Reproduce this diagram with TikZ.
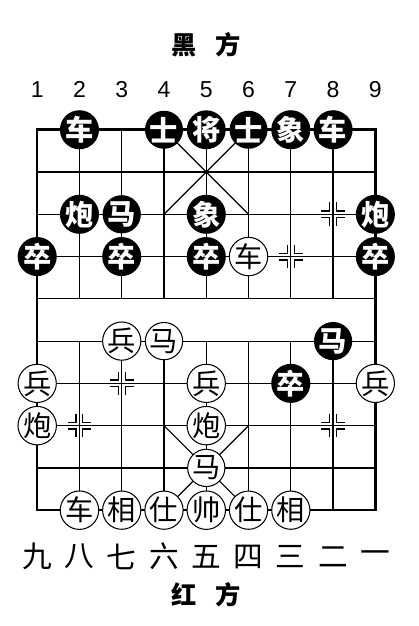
\documentclass[tikz,border=0pt]{standalone}
\usepackage{fontspec}
\setmainfont{Liberation Sans}
\newfontfamily\cjk{Noto Sans CJK SC}
\usepackage{tikz}
\usetikzlibrary{calc}

\tikzset{
  gridline/.style={line width=0.8pt},
  frameline/.style={line width=1.7pt},
  bpiece/.style={circle, fill=black, text=white, minimum size=0.85cm, inner sep=0pt,
    font=\cjk\bfseries\fontsize{19}{19}\selectfont},
  rpiece/.style={circle, draw=black, fill=white, line width=0.7pt, minimum size=0.85cm, inner sep=0pt,
    font=\cjk\fontsize{19}{19}\selectfont},
  colnum/.style={font=\fontsize{15.5}{15.5}\selectfont},
  filenum/.style={font=\cjk\fontsize{20}{20}\selectfont},
  side/.style={font=\cjk\bfseries\fontsize{17}{17}\selectfont}
}

% corner marks of a point
\newcommand{\spotmark}[2]{%
  \foreach \sx in {-1,1} {
    \foreach \sy in {-1,1} {
      \draw[gridline] (#1+\sx*0.08,#2+\sy*0.28) -- (#1+\sx*0.08,#2+\sy*0.08) -- (#1+\sx*0.28,#2+\sy*0.08);
    }
  }%
}

\begin{document}
\begin{tikzpicture}
  \useasboundingbox (-0.88,-2.74) rectangle (9.02,12.07);

  % board
  \foreach \y in {0,...,9}
    \draw[gridline] (0,\y) -- (8,\y);
  \foreach \x in {1,...,7} {
    \draw[gridline] (\x,0) -- (\x,4);
    \draw[gridline] (\x,5) -- (\x,9);
  }
  \draw[frameline] (0,0) rectangle (8,9);
  % palaces
  \draw[gridline] (3,9) -- (5,7) (5,9) -- (3,7);
  \draw[gridline] (3,0) -- (5,2) (5,0) -- (3,2);
  % free points
  \foreach \px/\py in {7/7,6/6,2/3,1/2,7/2} {
    \spotmark{\px}{\py}
  }

  % black side
  \node[bpiece] (bche1) at (1,9) {车};
  \node[bpiece] (bshi1) at (3,9) {士};
  \node[bpiece] (bjiang) at (4,9) {将};
  \node[bpiece] (bshi2) at (5,9) {士};
  \node[bpiece] (bxiang) at (6,9) {象};
  \node[bpiece] (bche2) at (7,9) {车};
  \node[bpiece] (bpao1) at (1,7) {炮};
  \node[bpiece] (bma1) at (2,7) {马};
  \node[bpiece] (bxiang2) at (4,7) {象};
  \node[bpiece] (bpao2) at (8,7) {炮};
  \node[bpiece] (bzu1) at (0,6) {卒};
  \node[bpiece] (bzu2) at (2,6) {卒};
  \node[bpiece] (bzu3) at (4,6) {卒};
  \node[bpiece] (bzu4) at (8,6) {卒};
  \node[bpiece] (bma2) at (7,4) {马};
  \node[bpiece] (bzu5) at (6,3) {卒};

  % red side
  \node[rpiece] (rche1) at (5,6) {车};
  \node[rpiece] (rbing1) at (2,4) {兵};
  \node[rpiece] (rma1) at (3,4) {马};
  \node[rpiece] (rbing2) at (0,3) {兵};
  \node[rpiece] (rbing3) at (4,3) {兵};
  \node[rpiece] (rbing4) at (8,3) {兵};
  \node[rpiece] (rpao1) at (0,2) {炮};
  \node[rpiece] (rpao2) at (4,2) {炮};
  \node[rpiece] (rma2) at (4,1) {马};
  \node[rpiece] (rche2) at (1,0) {车};
  \node[rpiece] (rxiang1) at (2,0) {相};
  \node[rpiece] (rshi1) at (3,0) {仕};
  \node[rpiece] (rshuai) at (4,0) {帅};
  \node[rpiece] (rshi2) at (5,0) {仕};
  \node[rpiece] (rxiang2) at (6,0) {相};

  % file numbers
  \foreach \n in {1,...,9}
    \node[colnum] (top\n) at (\n-1,9.95) {\n};
  \foreach \z [count=\i from 0] in {九,八,七,六,五,四,三,二,一}
    \node[filenum] (bot\i) at (\i,-1.1) {\z};

  \node[side] (black) at (4,11.0) {黑\hspace{0.75em}方};
  \node[side] (red) at (4,-2.0) {红\hspace{0.75em}方};
\end{tikzpicture}
\end{document}
